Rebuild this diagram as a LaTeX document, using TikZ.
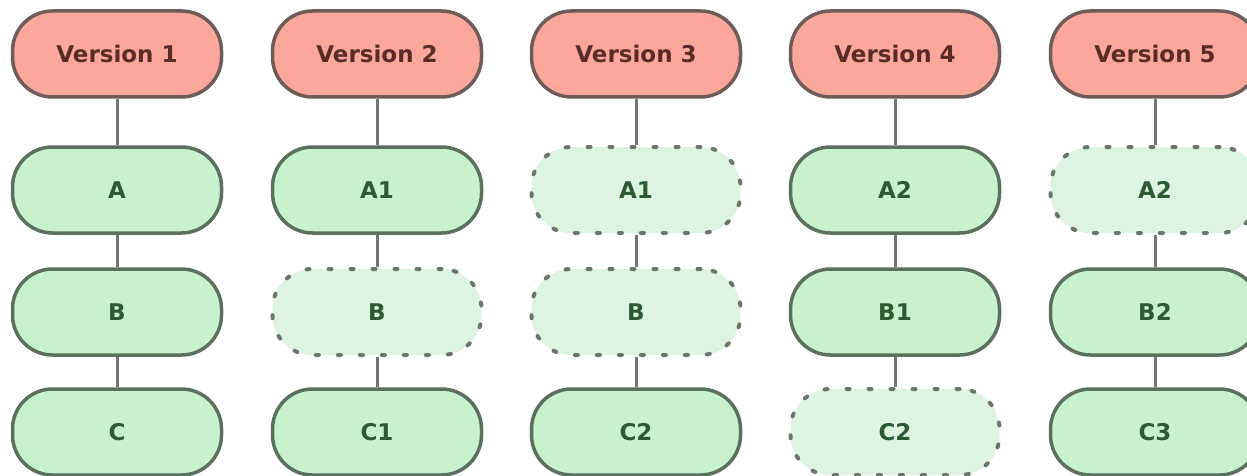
\documentclass[tikz,border=0pt]{standalone}
\usepackage{fontspec}
\setmainfont{DejaVu Sans}
\definecolor{verfill}{HTML}{FCA79C}
\definecolor{verdraw}{HTML}{6E5C59}
\definecolor{vertext}{HTML}{5A2C28}
\definecolor{filefill}{HTML}{C8F2CE}
\definecolor{filedraw}{HTML}{5C705E}
\definecolor{filetext}{HTML}{2E5A33}
\definecolor{ghostfill}{HTML}{DDF4E0}
\definecolor{ghostdraw}{HTML}{6A766B}
\definecolor{linkc}{HTML}{747474}
\begin{document}
\begin{tikzpicture}[x=1pt,y=-1pt,
  box/.style={rectangle, rounded corners=40pt, minimum width=209pt, minimum height=86pt,
    line width=3.5pt, font=\fontsize{23}{26}\selectfont\bfseries, inner sep=0pt},
  ver/.style={box, fill=verfill, draw=verdraw, text=vertext},
  file/.style={box, fill=filefill, draw=filedraw, text=filetext},
  ghost/.style={box, fill=ghostfill, draw=ghostdraw, line width=4pt, dash pattern=on 3pt off 19pt, line cap=round, text=filetext},
  link/.style={draw=linkc, line width=3pt}]
\clip (0,0) rectangle (1247,476);
\fill[white] (0,0) rectangle (1247,476);
% column 1
\node[ver]  (v1) at (117,54)  {Version 1};
\node[file] (a1) at (117,190) {A};
\node[file] (b1) at (117,312) {B};
\node[file] (c1) at (117,432) {C};
% column 2
\node[ver]   (v2) at (377,54)  {Version 2};
\node[file]  (a2) at (377,190) {A1};
\node[ghost] (b2) at (377,312) {B};
\node[file]  (c2) at (377,432) {C1};
% column 3
\node[ver]   (v3) at (636,54)  {Version 3};
\node[ghost] (a3) at (636,190) {A1};
\node[ghost] (b3) at (636,312) {B};
\node[file]  (c3) at (636,432) {C2};
% column 4
\node[ver]   (v4) at (895,54)  {Version 4};
\node[file]  (a4) at (895,190) {A2};
\node[file]  (b4) at (895,312) {B1};
\node[ghost] (c4) at (895,432) {C2};
% column 5
\node[ver]   (v5) at (1155,54)  {Version 5};
\node[ghost] (a5) at (1155,190) {A2};
\node[file]  (b5) at (1155,312) {B2};
\node[file]  (c5) at (1155,432) {C3};
\foreach \i in {1,...,5}{
  \draw[link] (v\i) -- (a\i);
  \draw[link] (a\i) -- (b\i);
  \draw[link] (b\i) -- (c\i);
}
\end{tikzpicture}
\end{document}
